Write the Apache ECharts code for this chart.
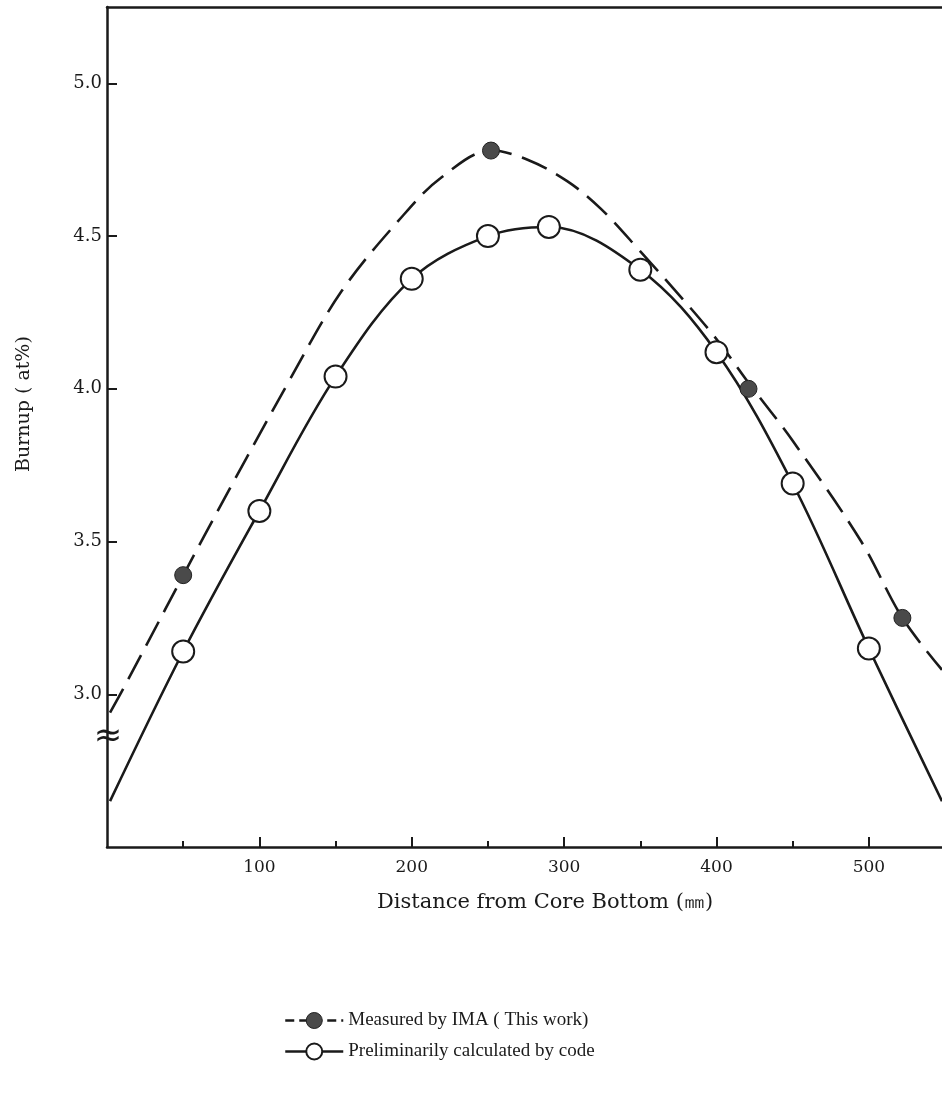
<!DOCTYPE html>
<html>
<head>
<meta charset="utf-8">
<script src="https://cdn.jsdelivr.net/npm/echarts@6/dist/echarts.min.js"></script>
<style>
html,body{margin:0;padding:0;background:#fff;}
#chart{width:942px;height:1106px;}
</style>
</head>
<body>
<div id="chart"></div>
<script>
// ---- data ----
const measuredX = [50, 252, 421, 522];
const measuredY = [3.39, 4.78, 4.00, 3.25];

// dashed fitted curve through the measured values
const measuredCurveX = [2, 13, 64, 120, 154, 193, 219, 252, 276, 302, 324, 350, 382, 402, 421, 450, 495, 522, 548];
const measuredCurveY = [2.94, 3.04, 3.52, 4.03, 4.32, 4.56, 4.69, 4.78, 4.75, 4.68, 4.59, 4.45, 4.27, 4.15, 4.02, 3.83, 3.50, 3.25, 3.08];

// calculated points (open circles)
const calcX = [50, 100, 150, 200, 250, 290, 350, 400, 450, 500];
const calcY = [3.14, 3.60, 4.04, 4.36, 4.50, 4.53, 4.39, 4.12, 3.69, 3.15];
// extension of the solid curve to the plot edges
const calcStart = [2, 2.65];
const calcEnd = [548, 2.65];

const xTickMajor = [100, 200, 300, 400, 500];
const xTickMinor = [50, 150, 250, 350, 450];
const yTicks = [3.0, 3.5, 4.0, 4.5, 5.0];

const seriesNames = ['Measured by IMA ( This work)', 'Preliminarily calculated by code'];

// ---- build ----
const FONT = '"DejaVu Serif", "Liberation Serif", serif';
const LFONT = '"Liberation Serif", "DejaVu Serif", serif';
const INK = '#1a1a1a';
const DOT = '#4a4a4a';

const dashedLineData = measuredCurveX.map((x, i) => ({ value: [x, measuredCurveY[i]], symbol: 'none' }));
const measuredPts = measuredX.map((x, i) => [x, measuredY[i]]);
const solidData = [{ value: calcStart, symbol: 'none' }]
  .concat(calcX.map((x, i) => ({ value: [x, calcY[i]] })))
  .concat([{ value: calcEnd, symbol: 'none' }]);

const gridBox = { left: 107, right: 0, top: 7, bottom: 259 };
const chart = echarts.init(document.getElementById('chart'), null, { renderer: 'canvas' });

const option = {
  backgroundColor: '#fff',
  animation: false,
  grid: [
    Object.assign({ containLabel: false }, gridBox),
    Object.assign({ containLabel: false }, gridBox)
  ],
  xAxis: [
    {
      type: 'value', gridIndex: 0, min: 0, max: 548, position: 'bottom',
      axisLine: { show: true, lineStyle: { color: INK, width: 2.5 } },
      axisTick: { show: true, inside: true, length: 10, customValues: xTickMajor, lineStyle: { color: INK, width: 2 } },
      axisLabel: { show: true, customValues: xTickMajor, margin: 12, fontFamily: FONT, fontSize: 17, color: INK },
      splitLine: { show: false }
    },
    {
      type: 'value', gridIndex: 0, min: 0, max: 548, position: 'top',
      axisLine: { show: true, lineStyle: { color: INK, width: 2.5 } },
      axisTick: { show: false }, axisLabel: { show: false }, splitLine: { show: false }
    },
    {
      type: 'value', gridIndex: 1, min: 0, max: 548, position: 'bottom',
      axisLine: { show: false },
      axisTick: { show: true, inside: true, length: 6, customValues: xTickMinor, lineStyle: { color: INK, width: 2 } },
      axisLabel: { show: false }, splitLine: { show: false }
    }
  ],
  yAxis: [
    {
      type: 'value', gridIndex: 0, min: 2.5, max: 5.25, interval: 0.5,
      axisLine: { show: true, lineStyle: { color: INK, width: 2.5 } },
      axisTick: { show: true, inside: true, length: 10, customValues: yTicks, lineStyle: { color: INK, width: 2 } },
      axisLabel: { show: true, customValues: yTicks, margin: 5, fontFamily: FONT, fontSize: 18, color: INK,
        formatter: v => v.toFixed(1) },
      splitLine: { show: false }
    },
    {
      type: 'value', gridIndex: 1, min: 2.5, max: 5.25,
      axisLine: { show: false }, axisTick: { show: false }, axisLabel: { show: false }, splitLine: { show: false }
    }
  ],
  legend: {
    orient: 'vertical',
    left: 279,
    top: 1006,
    itemWidth: 58,
    itemHeight: 20,
    itemGap: 12,
    data: [
      { name: seriesNames[0], lineStyle: { type: [9, 5], width: 2.5, color: INK },
        itemStyle: { color: DOT, borderColor: '#222', borderWidth: 1 } },
      { name: seriesNames[1], lineStyle: { type: 'solid', width: 2.5, color: INK } }
    ],
    textStyle: { fontFamily: LFONT, fontSize: 19, color: INK, padding: [0, 0, 0, 0] }
  },
  series: [
    {
      name: seriesNames[0], type: 'line', xAxisIndex: 0, yAxisIndex: 0,
      data: dashedLineData, smooth: 0.35,
      symbol: 'circle', symbolSize: 16,
      lineStyle: { color: INK, width: 2.6, type: [27, 11] },
      itemStyle: { color: DOT, borderColor: '#222', borderWidth: 1 },
      z: 2
    },
    {
      name: seriesNames[0], type: 'scatter', xAxisIndex: 0, yAxisIndex: 0,
      data: measuredPts, symbol: 'circle', symbolSize: 17,
      itemStyle: { color: DOT, borderColor: '#222', borderWidth: 1, opacity: 1 },
      z: 6
    },
    {
      name: seriesNames[1], type: 'line', xAxisIndex: 0, yAxisIndex: 0,
      data: solidData, smooth: 0.35,
      symbol: 'circle', symbolSize: 22, showAllSymbol: true,
      lineStyle: { color: INK, width: 2.6 },
      itemStyle: { color: '#fff', borderColor: INK, borderWidth: 2 },
      z: 3
    }
  ]
};
chart.setOption(option);

// axis-break mark and axis titles
const breakPt = chart.convertToPixel({ gridIndex: 0 }, [0, 2.86]);
const midY = chart.convertToPixel({ gridIndex: 0 }, [0, 3.95]);
chart.setOption({
  graphic: [
    {
      type: 'text', x: breakPt[0] + 1, y: breakPt[1], z: 10,
      style: { text: '≈', fontFamily: '"DejaVu Sans", sans-serif', fontSize: 34, fill: INK,
        align: 'center', verticalAlign: 'middle' }
    },
    {
      type: 'text', x: 24, y: midY[1], rotation: Math.PI / 2,
      style: { text: 'Burnup ( at%)', fontFamily: FONT, fontSize: 19, fill: INK,
        align: 'center', verticalAlign: 'middle' }
    },
    {
      type: 'text', x: 545, y: 903,
      style: { text: 'Distance from Core Bottom (㎜)', fontFamily: FONT, fontSize: 21, fill: INK,
        align: 'center', verticalAlign: 'middle' }
    }
  ]
});
</script>
</body>
</html>
